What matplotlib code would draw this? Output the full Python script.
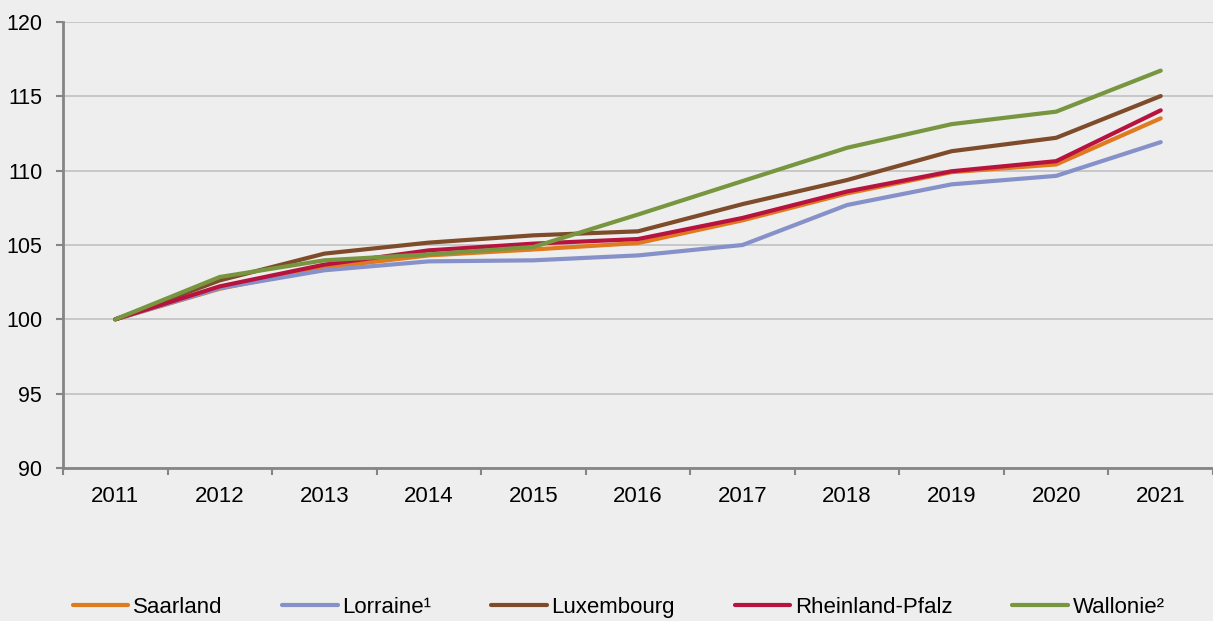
import matplotlib
matplotlib.use('Agg')
import matplotlib.pyplot as plt
import numpy as np

years = ['2011', '2012', '2013', '2014', '2015', '2016',
         '2017', '2018', '2019', '2020', '2021']
saarland = [100, 102.06, 103.48, 104.30, 104.70, 105.13, 106.66, 108.47, 109.90, 110.42, 113.52]
lorraine = [100, 102.10, 103.30, 103.90, 103.97, 104.30, 105.00, 107.69, 109.08, 109.65, 111.92]
luxembourg = [100, 102.62, 104.42, 105.16, 105.65, 105.92, 107.75, 109.37, 111.31, 112.21, 115.02]
rheinland = [100, 102.22, 103.68, 104.64, 105.09, 105.40, 106.82, 108.60, 109.96, 110.64, 114.06]
wallonie = [100, 102.85, 103.97, 104.37, 104.87, 107.05, 109.30, 111.54, 113.13, 113.97, 116.73]

series = [
    ('Saarland', saarland, '#E07A1F'),
    ('Lorraine¹', lorraine, '#8791C9'),
    ('Luxembourg', luxembourg, '#7E4C2B'),
    ('Rheinland-Pfalz', rheinland, '#B8123F'),
    ('Wallonie²', wallonie, '#77963F'),
]

bg = '#EDEEED'
plt.rcParams['font.family'] = ['Liberation Sans', 'DejaVu Sans']

fig = plt.figure(figsize=(12.13, 6.21), dpi=100, facecolor=bg)
ax = fig.add_axes([63 / 1213, 1 - 468 / 621, 1 - 63 / 1213, (468 - 22) / 621])
ax.set_facecolor(bg)

x = np.arange(len(years))
for name, vals, col in series:
    ax.plot(x, vals, color=col, lw=3, label=name, solid_capstyle='round')

ax.set_ylim(90, 120)
ax.set_yticks(range(90, 121, 5))
ax.set_xlim(-0.5, 10.44)
ax.set_xticks(x)
ax.set_xticklabels(years)
ax.set_xticks(np.arange(-0.5, 11, 1), minor=True)

# horizontal grid only, like the source
ax.grid(axis='y', color='#C4C4C4', lw=1.3)
ax.set_axisbelow(True)
for s in ['top', 'right']:
    ax.spines[s].set_visible(False)
for s in ['left', 'bottom']:
    ax.spines[s].set_color('#858585')
    ax.spines[s].set_linewidth(2)

ax.tick_params(axis='y', length=5, width=1.5, color='#858585', pad=10, labelsize=15.5)
ax.tick_params(axis='x', which='major', length=0, pad=13, labelsize=16)
ax.tick_params(axis='x', which='minor', length=5, width=1.5, color='#858585')

# legend kept just inside the bottom edge so no text is clipped
fig.legend(loc='center', bbox_to_anchor=(0.51, 0.022), ncol=5, frameon=False,
           fontsize=16, handlelength=2.5, handletextpad=0.2, columnspacing=2.7)

fig.savefig('out.png', dpi=100, facecolor=bg)
